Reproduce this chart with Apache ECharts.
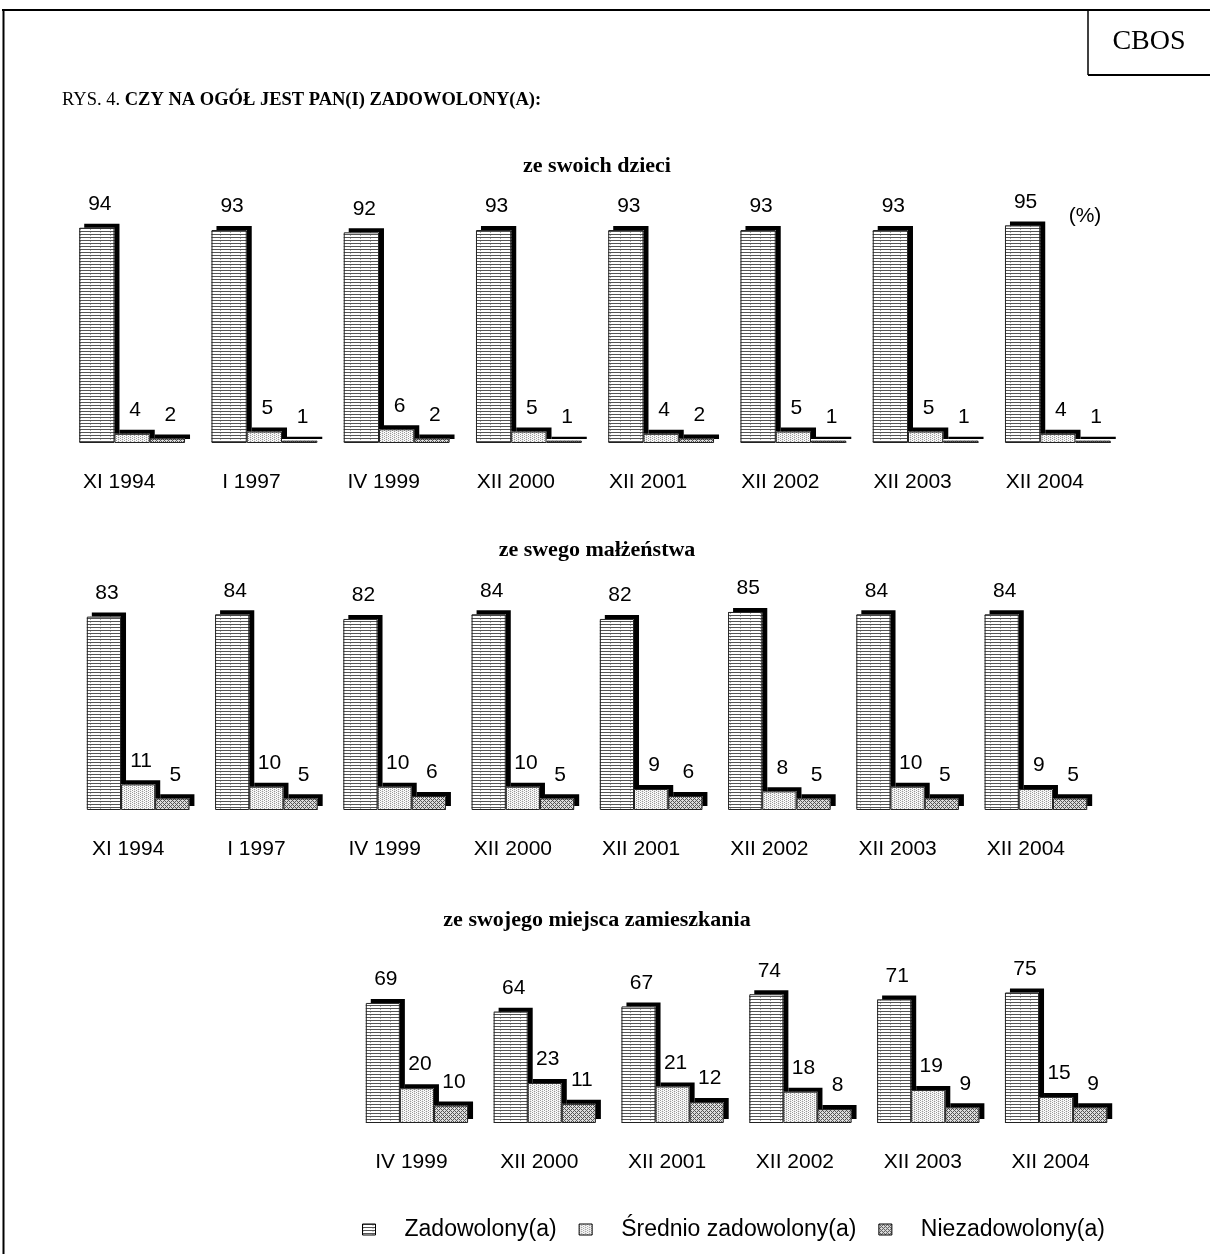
<!DOCTYPE html>
<html>
<head>
<meta charset="utf-8">
<script src="https://cdn.jsdelivr.net/npm/echarts@6/dist/echarts.min.js"></script>
<style>
html,body{margin:0;padding:0;background:#fff;}
#c{width:1210px;height:1254px;}
</style>
</head>
<body>
<div id="c"></div>
<script>
// ---- data ----
const categories1 = ['XI 1994','I 1997','IV 1999','XII 2000','XII 2001','XII 2002','XII 2003','XII 2004'];
const dzieciZadowolony = [94,93,92,93,93,93,93,95];
const dzieciSrednio    = [4,5,6,5,4,5,5,4];
const dzieciNiezadow   = [2,1,2,1,2,1,1,1];

const categories2 = ['XI 1994','I 1997','IV 1999','XII 2000','XII 2001','XII 2002','XII 2003','XII 2004'];
const malzZadowolony = [83,84,82,84,82,85,84,84];
const malzSrednio    = [11,10,10,10,9,8,10,9];
const malzNiezadow   = [5,5,6,5,6,5,5,5];

const categories3 = ['IV 1999','XII 2000','XII 2001','XII 2002','XII 2003','XII 2004'];
const miejZadowolony = [69,64,67,74,71,75];
const miejSrednio    = [20,23,21,18,19,15];
const miejNiezadow   = [10,11,12,8,9,9];

const seriesNames = ['Zadowolony(a)','Średnio zadowolony(a)','Niezadowolony(a)'];
const chartTitles = ['ze swoich dzieci','ze swego małżeństwa','ze swojego miejsca zamieszkania'];

// ---- patterns ----
function tile(w, h, fn){
  const c = document.createElement('canvas');
  c.width = w; c.height = h;
  const ctx = c.getContext('2d');
  ctx.fillStyle = '#fff'; ctx.fillRect(0,0,w,h);
  for (let y=0;y<h;y++) for (let x=0;x<w;x++){
    const col = fn(x,y);
    if (col){ ctx.fillStyle = col; ctx.fillRect(x,y,1,1); }
  }
  return c;
}
const patHoriz = tile(10,6,(x,y)=> (y%3===0) ? '#555' : ((x===0 && y%3===1) ? '#aaa' : null));
const patDots  = tile(4,4,(x,y)=> ((x+y*2)%4===0) ? '#9a9a9a' : (((x+y)%2===0)?'#e6e6e6':null));
const patCross = tile(4,4,(x,y)=> ((x+y)%4===0 || ((x-y+4)%4===0)) ? '#555' : '#dcdcdc');
const fills = [
  {image: patHoriz, repeat:'repeat'},
  {image: patDots, repeat:'repeat'},
  {image: patCross, repeat:'repeat'}
];

const FONT = 'Liberation Sans, Arial, sans-serif';
const SERIF = 'Liberation Serif, Times New Roman, serif';

// filled bars with 3-D like dark depth (shadow), no border
function barSeries(name, idx, grid, data){
  return {
    type:'bar', name:name, xAxisIndex:grid, yAxisIndex:grid, data:data,
    barGap:'0%', barCategoryGap:'20%',
    itemStyle:{color:fills[idx], borderWidth:0,
      shadowColor:'#000', shadowBlur:0, shadowOffsetX:5, shadowOffsetY:-4},
    label:{show:true, position:'top', distance:13, offset:[3,0],
      fontFamily:FONT, fontSize:21, color:'#000'},
    emphasis:{disabled:true}, animation:false
  };
}
// thin outline drawn on an identical overlay grid
function outlineSeries(idx, grid, data){
  return {
    type:'bar', name:'outline'+idx, xAxisIndex:grid, yAxisIndex:grid, data:data,
    barGap:'0%', barCategoryGap:'20%', z:3,
    itemStyle:{color:'rgba(0,0,0,0)', borderColor:'#222', borderWidth:1},
    label:{show:false}, silent:true,
    emphasis:{disabled:true}, animation:false
  };
}

const gridBoxes = [
  {left:66, right:86, top:214, bottom:811},
  {left:74, right:110, top:577, bottom:444},
  {left:353, right:90, top:949, bottom:131}
];
const cats = [categories1, categories2, categories3];
const labelPad = [26, 20, 11];
const dataSets = [
  [dzieciZadowolony, dzieciSrednio, dzieciNiezadow],
  [malzZadowolony, malzSrednio, malzNiezadow],
  [miejZadowolony, miejSrednio, miejNiezadow]
];

const grids = gridBoxes.concat(gridBoxes.map(g=>Object.assign({}, g)));
const xAxes = [], yAxes = [];
for (let k=0;k<6;k++){
  const i = k%3;
  xAxes.push({
    type:'category', gridIndex:k, data:cats[i],
    axisLine:{show:false}, axisTick:{show:false}, splitLine:{show:false},
    axisLabel:{show:k<3, fontFamily:FONT, fontSize:21, color:'#000', margin:29, padding:[0,labelPad[i],0,0], interval:0}
  });
  yAxes.push({type:'value', gridIndex:k, min:0, max:100, show:false, splitLine:{show:false}});
}

const series = [];
for (let i=0;i<3;i++) for (let s=0;s<3;s++) series.push(barSeries(seriesNames[s], s, i, dataSets[i][s]));
for (let i=0;i<3;i++) for (let s=0;s<3;s++) series.push(outlineSeries(s, i+3, dataSets[i][s]));

const option = {
  backgroundColor:'#fff',
  animation:false,
  grid: grids,
  xAxis: xAxes,
  yAxis: yAxes,
  legend:{
    data:seriesNames, left:357, top:1213, itemWidth:13, itemHeight:11, itemGap:22,
    icon:'rect',
    itemStyle:{borderColor:'#000', borderWidth:1, shadowBlur:0, shadowOffsetX:0, shadowOffsetY:0, shadowColor:'rgba(0,0,0,0)'},
    textStyle:{fontFamily:FONT, fontSize:23, color:'#000', padding:[0,0,0,24]},
    selectedMode:false
  },
  series: series,
  graphic:[
    {type:'line', shape:{x1:2, y1:10, x2:1210, y2:10}, style:{stroke:'#000', lineWidth:2}, silent:true},
    {type:'line', shape:{x1:3.5, y1:9, x2:3.5, y2:1254}, style:{stroke:'#000', lineWidth:2}, silent:true},
    {type:'line', shape:{x1:1088, y1:10, x2:1088, y2:75}, style:{stroke:'#000', lineWidth:1.5}, silent:true},
    {type:'line', shape:{x1:1088, y1:75, x2:1210, y2:75}, style:{stroke:'#000', lineWidth:2}, silent:true},
    {type:'text', x:1149, y:42, style:{text:'CBOS', font:'28px '+SERIF, fill:'#000', align:'center', verticalAlign:'middle', textAlign:'center', textVerticalAlign:'middle'}, silent:true},
    {type:'text', x:62, y:100, style:{
      text:'{n|RYS. 4. }{b|CZY NA OGÓŁ JEST PAN(I) ZADOWOLONY(A):}',
      rich:{n:{fontFamily:SERIF, fontSize:18.5, fill:'#000'}, b:{fontFamily:SERIF, fontSize:18.5, fontWeight:'bold', fill:'#000'}},
      verticalAlign:'middle', textVerticalAlign:'middle'}, silent:true},
    {type:'text', x:597, y:166, style:{text:chartTitles[0], font:'bold 22px '+SERIF, fill:'#000', align:'center', verticalAlign:'middle', textAlign:'center', textVerticalAlign:'middle'}, silent:true},
    {type:'text', x:597, y:550, style:{text:chartTitles[1], font:'bold 22px '+SERIF, fill:'#000', align:'center', verticalAlign:'middle', textAlign:'center', textVerticalAlign:'middle'}, silent:true},
    {type:'text', x:597, y:920, style:{text:chartTitles[2], font:'bold 22px '+SERIF, fill:'#000', align:'center', verticalAlign:'middle', textAlign:'center', textVerticalAlign:'middle'}, silent:true},
    {type:'text', x:1085, y:216, style:{text:'(%)', font:'21px '+FONT, fill:'#000', align:'center', verticalAlign:'middle', textAlign:'center', textVerticalAlign:'middle'}, silent:true}
  ]
};

const chart = echarts.init(document.getElementById('c'), null, {renderer:'canvas'});
chart.setOption(option);
</script>
</body>
</html>
